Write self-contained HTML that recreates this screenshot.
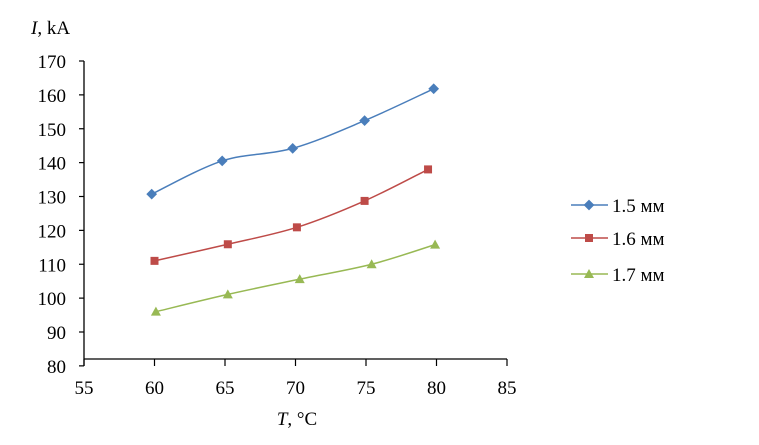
<!DOCTYPE html>
<html><head><meta charset="utf-8"><style>
body{margin:0;background:#fff}
svg,svg text{font-family:"Liberation Serif","Times New Roman",serif}
</style></head><body>
<svg id="c" width="759" height="440" font-family="Liberation Serif, serif" xmlns="http://www.w3.org/2000/svg"></svg>
<script>
const xTicks=[55,60,65,70,75,80,85];
const yTicks=[80,90,100,110,120,130,140,150,160,170];
const names=["1.5 мм","1.6 мм","1.7 мм"];
const x15=[59.8,64.8,69.8,74.9,79.8];
const y15=[130.7,140.5,144.2,152.4,161.8];
const x16=[60,65.2,70.1,74.9,79.4];
const y16=[111,115.9,120.9,128.7,138];
const x17=[60.1,65.2,70.3,75.4,79.9];
const y17=[96,101.1,105.6,110,115.8];
const colors=["#4a7ebb","#be4b48","#98b954"];
const NS="http://www.w3.org/2000/svg";
const svg=document.getElementById('c');
const FF='"Liberation Serif", serif';
const X=v=>84+(v-55)*(423/30);
const Y=v=>332-(v-90)*(271/80);
function mk(t,a,p){const e=document.createElementNS(NS,t);for(const k in a)e.setAttribute(k,a[k]);if(t==='text')e.setAttribute('font-family',FF);(p||svg).appendChild(e);return e;}
const ax=mk('g',{});


mk('line',{x1:84,y1:Y(170),x2:84,y2:366,stroke:'#000','stroke-width':1.3},ax);
mk('line',{x1:84,y1:359,x2:507,y2:359,stroke:'#000','stroke-width':1.3},ax);
yTicks.forEach(v=>{
  mk('line',{x1:79,y1:Y(v),x2:84,y2:Y(v),stroke:'#000','stroke-width':1.2},ax);
  const t=mk('text',{x:66,y:Y(v)+7,'text-anchor':'end','font-size':19},ax);t.textContent=v;
  
  
});
xTicks.forEach(v=>{
  mk('line',{x1:X(v),y1:359,x2:X(v),y2:366,stroke:'#000','stroke-width':1.2},ax);
  const t=mk('text',{x:X(v),y:394,'text-anchor':'middle','font-size':19},ax);t.textContent=v;
  
  
});
const yt=mk('text',{x:31,y:34,'font-size':19});yt.innerHTML='<tspan font-style="italic">I</tspan>, kA';


const xt=mk('text',{x:297,y:425,'text-anchor':'middle','font-size':19});xt.innerHTML='<tspan font-style="italic">T</tspan>, °C';


function marker(i,cx,cy,g){
  if(i==0)mk('rect',{x:cx-3.8,y:cy-3.8,width:7.6,height:7.6,fill:colors[i],transform:`rotate(45 ${cx} ${cy})`},g);
  else if(i==1)mk('rect',{x:cx-4,y:cy-4,width:8,height:8,fill:colors[i]},g);
  else mk('polygon',{points:`${cx},${cy-5} ${cx+5},${cy+4} ${cx-5},${cy+4}`,fill:colors[i]},g);
}
function smooth(p){
  let d=`M${p[0][0]},${p[0][1]}`;
  for(let i=0;i<p.length-1;i++){
    const p0=p[i-1]||p[i],p1=p[i],p2=p[i+1],p3=p[i+2]||p2;
    const c1=[p1[0]+(p2[0]-p0[0])/6,p1[1]+(p2[1]-p0[1])/6];
    const c2=[p2[0]-(p3[0]-p1[0])/6,p2[1]-(p3[1]-p1[1])/6];
    d+=` C${c1[0]},${c1[1]} ${c2[0]},${c2[1]} ${p2[0]},${p2[1]}`;
  }
  return d;
}
const series=[[x15,y15],[x16,y16],[x17,y17]];
const ly=[205,238,274];
series.forEach((s,i)=>{
  const g=mk('g',{});
  
  
  const pts=s[0].map((v,j)=>[X(v),Y(s[1][j])]);
  mk('path',{d:smooth(pts),fill:'none',stroke:colors[i],'stroke-width':1.5},g);
  pts.forEach(p=>marker(i,p[0],p[1],g));
  const lg=mk('g',{});
  
  
  mk('line',{x1:571,y1:ly[i],x2:608,y2:ly[i],stroke:colors[i],'stroke-width':1.5},lg);
  marker(i,589,ly[i],lg);
  const t=mk('text',{x:612,y:ly[i]+7,'font-size':19},lg);t.textContent=names[i];
});
</script>
</body></html>
